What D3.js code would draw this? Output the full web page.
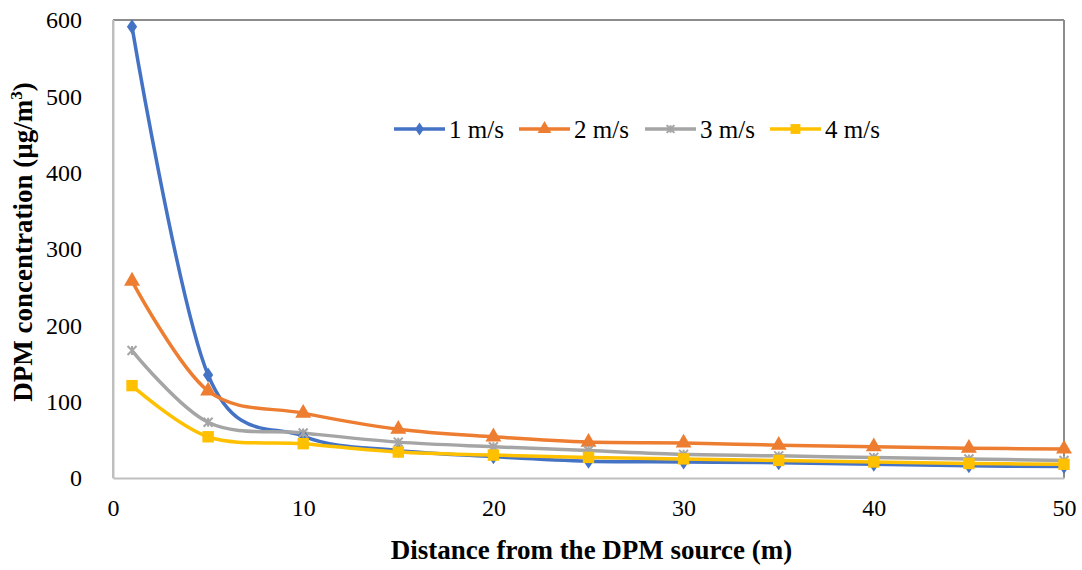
<!DOCTYPE html>
<html><head><meta charset="utf-8">
<script src="https://cdn.jsdelivr.net/npm/d3@7"></script>
<style>body{margin:0;background:#fff}svg{display:block}svg text{font-family:"Liberation Serif","Times New Roman",Times,serif}</style>
</head><body><svg id="c" width="1082" height="570"></svg>
<script>
const distances = [1, 5, 10, 15, 20, 25, 30, 35, 40, 45, 50];
const s1 = [591, 135, 55, 36, 28, 22, 21, 20, 18, 16, 15];
const s2 = [258, 114, 85, 64, 54, 47, 46, 43, 41, 39, 38];
const s3 = [167, 73, 59, 47, 41, 36, 31, 29, 27, 25, 23];
const s4 = [121, 54, 45, 34, 30, 27, 25, 23, 21, 19, 18];
const seriesNames = ["1 m/s", "2 m/s", "3 m/s", "4 m/s"];
const colors = ["#4472C4", "#ED7D31", "#A5A5A5", "#FFC000"];
const xTicks = [0, 10, 20, 30, 40, 50];
const yTicks = [0, 100, 200, 300, 400, 500, 600];

const svg = d3.select("#c");
const L = 113, R = 1064, T = 20, B = 478;
const x = d3.scaleLinear().domain([0, 50]).range([L, R]);
const y = d3.scaleLinear().domain([0, 600]).range([B, T]);
const font = '"Liberation Serif","Times New Roman",Times,serif';

// plot border
svg.append("line").attr("x1", L).attr("x2", R).attr("y1", T).attr("y2", T).attr("stroke", "#8c8c8c").attr("stroke-width", 2);
svg.append("line").attr("x1", R).attr("x2", R).attr("y1", T).attr("y2", B).attr("stroke", "#8c8c8c").attr("stroke-width", 2);
svg.append("line").attr("x1", L).attr("x2", L).attr("y1", T).attr("y2", B).attr("stroke", "#bfbfbf").attr("stroke-width", 2);

// axes
const xAxis = svg.append("g").attr("transform", `translate(0,${B})`)
  .call(d3.axisBottom(x).tickValues(xTicks).tickSize(0).tickPadding(21));
const yAxis = svg.append("g").attr("transform", `translate(${L},0)`)
  .call(d3.axisLeft(y).tickValues(yTicks).tickSize(0).tickPadding(31));
[xAxis, yAxis].forEach(g => {
  g.attr("font-family", null).attr("font-size", null);
  g.select(".domain").attr("stroke", "#bfbfbf").attr("stroke-width", 2);
  g.selectAll("text").style("font-family", font).style("font-size", "24px").attr("fill", "#000");
});

const data = [s1, s2, s3, s4];
const line = d3.line().x((d, i) => x(distances[i])).y(d => y(d)).curve(d3.curveCatmullRom.alpha(0));
const sym = [d3.symbolDiamond, d3.symbolTriangle, d3.symbolAsterisk, d3.symbolSquare];
const symSize = [90, 110, 80, 130];

function marker(g, k, cx, cy, scale) {
  const s = symSize[k] * (scale || 1);
  if (k === 2) {
    const r = Math.sqrt(s) / 2;
    const p = `M${-r},${-r}L${r},${r}M${-r},${r}L${r},${-r}M0,${-r}L0,${r}`;
    g.append("path").attr("d", p).attr("transform", `translate(${cx},${cy})`)
      .attr("stroke", colors[k]).attr("stroke-width", 2).attr("fill", "none");
  } else {
    let t = `translate(${cx},${cy})`;
    if (k === 0) t += " scale(1,0.85)";
    g.append("path").attr("d", d3.symbol(sym[k], s)()).attr("transform", t).attr("fill", colors[k]);
  }
}

data.forEach((vals, k) => {
  svg.append("path").attr("d", line(vals)).attr("fill", "none").attr("stroke", colors[k]).attr("stroke-width", 3.5);
});
data.forEach((vals, k) => {
  const g = svg.append("g");
  vals.forEach((v, i) => marker(g, k, x(distances[i]), y(v)));
});

// legend
const legX = [394, 519, 645, 770];
const legY = 129;
seriesNames.forEach((n, k) => {
  const g = svg.append("g");
  g.append("line").attr("x1", legX[k]).attr("x2", legX[k] + 51).attr("y1", legY).attr("y2", legY)
    .attr("stroke", colors[k]).attr("stroke-width", 3.5);
  marker(g, k, legX[k] + 25.5, legY, 0.75);
  g.append("text").attr("x", legX[k] + 55).attr("y", legY + 9).text(n)
    .style("font-family", font).style("font-size", "25px").attr("fill", "#000");
});

// titles
svg.append("text").attr("x", (L + R) / 2 + 3).attr("y", 559).attr("text-anchor", "middle")
  .style("font-family", font).attr("font-weight", "bold").style("font-size", "27px")
  .text("Distance from the DPM source (m)");
const yt = svg.append("text").attr("transform", `translate(32,${(T + B) / 2 - 7}) rotate(-90)`)
  .attr("text-anchor", "middle").style("font-family", font).attr("font-weight", "bold").style("font-size", "27px");
yt.append("tspan").text("DPM concentration (µg/m");
yt.append("tspan").style("font-size", "17px").attr("dy", -10).text("3");
yt.append("tspan").attr("dy", 10).text(")");
</script></body></html>
